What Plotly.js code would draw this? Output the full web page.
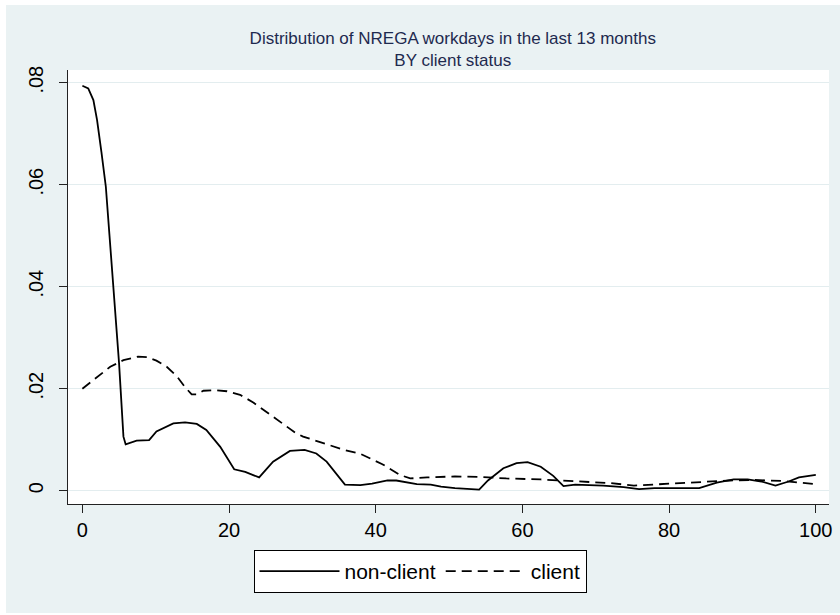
<!DOCTYPE html>
<html>
<head>
<meta charset="utf-8">
<script src="https://cdn.plot.ly/plotly-3.0.1.min.js"></script>
<style>html,body{margin:0;padding:0;background:#fff;}#chart{width:840px;height:615px;}</style>
</head>
<body>
<div id="chart"></div>
<script>
// Kernel density estimates
var nonClientX = [0, 0.8, 1.5, 2.0, 2.6, 3.2, 3.7, 4.4, 5.0, 5.6, 5.9, 7.4, 9.1, 10.1, 12.4, 14.0, 15.6, 16.9, 18.8, 20.7, 22.2, 24.1, 26.0, 28.3, 30.3, 31.9, 33.3, 35.8, 37.9, 39.5, 41.6, 42.8, 45.6, 47.5, 48.9, 50.8, 54.1, 55.3, 57.4, 59.2, 60.7, 62.5, 64.2, 65.6, 67.2, 71.0, 73.8, 75.9, 78.0, 84.1, 86.5, 88.8, 90.7, 92.6, 94.5, 96.3, 97.7, 100];
var nonClientY = [0.0794, 0.0789, 0.0766, 0.0727, 0.0664, 0.0596, 0.0500, 0.0374, 0.0250, 0.0106, 0.0091, 0.0098, 0.0099, 0.0116, 0.0132, 0.0134, 0.0131, 0.0119, 0.0086, 0.0042, 0.0037, 0.0026, 0.0057, 0.0078, 0.0080, 0.0073, 0.0057, 0.0012, 0.0011, 0.0014, 0.0020, 0.0020, 0.0013, 0.0012, 0.0008, 0.0005, 0.0002, 0.0020, 0.0044, 0.0054, 0.0056, 0.0047, 0.0029, 0.0009, 0.0012, 0.0010, 0.0007, 0.0003, 0.0005, 0.0005, 0.0016, 0.0022, 0.0022, 0.0018, 0.0010, 0.0018, 0.0026, 0.0031];

var clientX = [0, 1.7, 3.8, 5.6, 7.6, 8.8, 10.1, 11.5, 12.9, 14.0, 14.9, 15.6, 16.5, 18.3, 19.7, 21.5, 23.3, 26.0, 29.0, 30.1, 32.4, 35.7, 37.8, 39.1, 40.9, 43.3, 44.7, 47.0, 50.8, 54.1, 57.8, 62.5, 67.2, 71.9, 75.2, 79.0, 83.7, 88.3, 91.6, 95.4, 100];
var clientY = [0.0200, 0.0220, 0.0243, 0.0256, 0.0263, 0.0262, 0.0255, 0.0243, 0.0224, 0.0203, 0.0189, 0.0189, 0.0196, 0.0197, 0.0195, 0.0188, 0.0173, 0.0145, 0.0114, 0.0106, 0.0095, 0.0080, 0.0073, 0.0064, 0.0052, 0.0031, 0.0024, 0.0026, 0.0028, 0.0027, 0.0024, 0.0022, 0.0019, 0.0015, 0.0010, 0.0013, 0.0016, 0.0020, 0.0021, 0.0019, 0.0013];

var xTickVals = [0, 20, 40, 60, 80, 100];
var xTickText = ['0', '20', '40', '60', '80', '100'];
var yTickVals = [0, 0.02, 0.04, 0.06, 0.08];
var yTickText = ['0', '.02', '.04', '.06', '.08'];

var titleText = 'Distribution of NREGA workdays in the last 13 months<br>BY client status';
var seriesNames = ['non-client', 'client'];

var bgBlue = '#EAF2F3';
var fontFam = '"Liberation Sans", Arial, sans-serif';

var traces = [
  {x: nonClientX, y: nonClientY, name: seriesNames[0], type: 'scatter', mode: 'lines',
   line: {color: '#000000', width: 1.8, dash: 'solid'}},
  {x: clientX, y: clientY, name: seriesNames[1], type: 'scatter', mode: 'lines',
   line: {color: '#000000', width: 1.8, dash: '10px,6px'}}
];

var layout = {
  width: 840, height: 615,
  margin: {l: 68, r: 11, t: 70, b: 111},
  paper_bgcolor: '#ffffff',
  plot_bgcolor: '#ffffff',
  font: {family: fontFam, color: '#000000'},
  title: {text: titleText, font: {family: fontFam, size: 17, color: '#1E2A4F'},
          x: 0.539, xanchor: 'center', y: 0.9285, yanchor: 'middle', yref: 'container'},
  xaxis: {
    range: [-1.96, 101.8], tickmode: 'array', tickvals: xTickVals, ticktext: xTickText,
    showgrid: false, zeroline: false, showline: true, linecolor: '#222222', linewidth: 1,
    ticks: 'outside', ticklen: 8, tickcolor: '#222222', tickwidth: 1,
    tickfont: {family: fontFam, size: 20, color: '#000000'}
  },
  yaxis: {
    range: [-0.00261, 0.08249], tickmode: 'array', tickvals: yTickVals, ticktext: yTickText,
    showgrid: true, gridcolor: '#E3EDEF', gridwidth: 1.5, zeroline: false,
    showline: true, linecolor: '#222222', linewidth: 1,
    ticks: 'outside', ticklen: 8, tickcolor: '#222222', tickwidth: 1, tickangle: -90,
    ticklabelstandoff: 8,
    tickfont: {family: fontFam, size: 20, color: '#000000'}
  },
  showlegend: true,
  legend: {
    orientation: 'h', x: 0.5, xanchor: 'center', xref: 'container',
    y: 1 - 550 / 615, yanchor: 'top', yref: 'container',
    bgcolor: '#ffffff', bordercolor: '#000000', borderwidth: 1,
    font: {family: fontFam, size: 21, color: '#000000'},
    itemwidth: 80, tracegroupgap: 0
  },
  shapes: [
    {type: 'rect', xref: 'paper', yref: 'paper', x0: -0.0815, x1: 1.0145, y0: -0.2512, y1: 1.1498,
     fillcolor: bgBlue, line: {width: 0}, layer: 'below'},
    {type: 'rect', xref: 'paper', yref: 'paper', x0: 0, x1: 1, y0: 0, y1: 1,
     fillcolor: '#ffffff', line: {width: 0}, layer: 'below'}
  ]
};

Plotly.newPlot('chart', traces, layout, {displayModeBar: false, staticPlot: true});
</script>
</body>
</html>
